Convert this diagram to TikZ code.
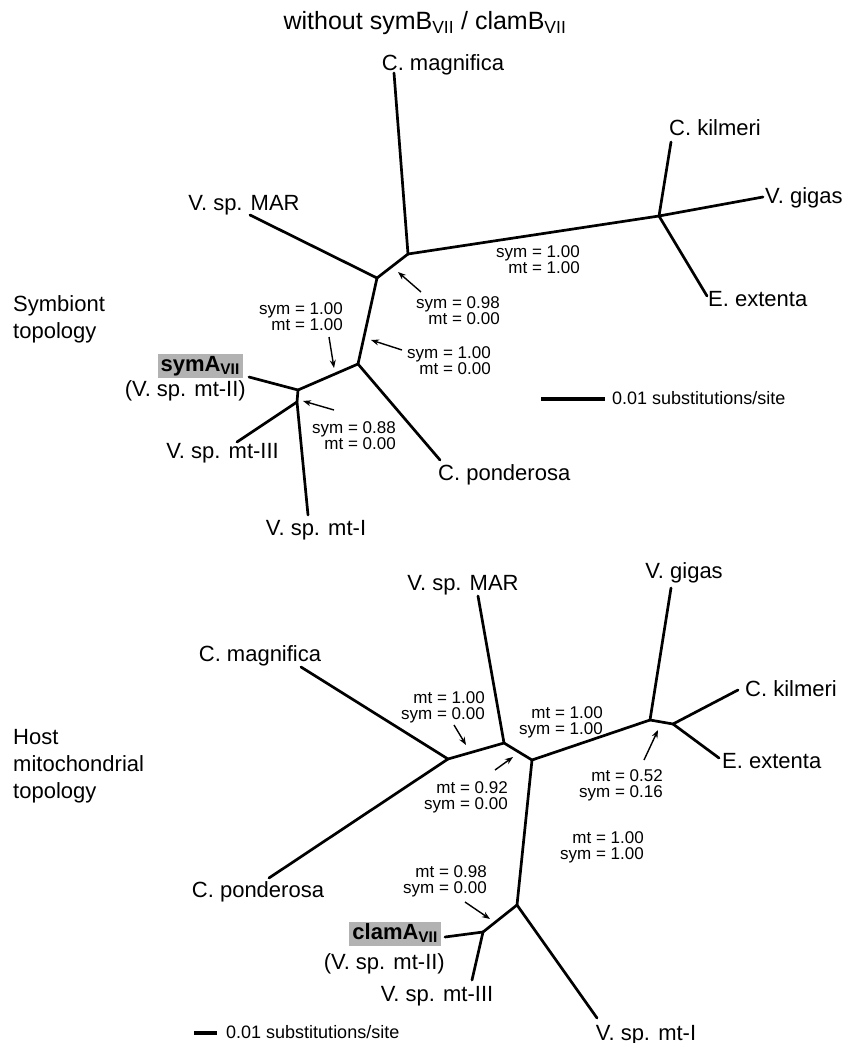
\documentclass[tikz,border=0pt]{standalone}
\usepackage{fontspec}
\setmainfont{Liberation Sans}
\usepackage{tikz}
\usetikzlibrary{positioning, arrows.meta}
\definecolor{boxgray}{gray}{0.7}
\newcommand{\VII}{\textsubscript{VII}}

\begin{document}
\begin{tikzpicture}[>={Stealth[length=8pt,width=6pt]}, x=1pt, y=-1pt,
  branch/.style={line width=2.7pt, line cap=round, line join=round},
  ptr/.style={->, line width=1.4pt},
  taxon/.style={inner sep=0pt, text height=16pt, text depth=0pt, font=\fontsize{22}{26}\selectfont},
  hl/.style={taxon, fill=boxgray, font=\fontsize{22}{26}\selectfont\bfseries, text depth=5pt, inner xsep=3pt, inner ysep=1.5pt},
  supp/.style={inner sep=0pt, align=right, anchor=north east, font=\fontsize{17}{16.5}\selectfont},
  side/.style={inner sep=0pt, align=left, anchor=north west, font=\fontsize{22}{27}\selectfont},
  scaletxt/.style={inner sep=0pt, anchor=west, text height=13pt, text depth=0pt, font=\fontsize{18}{20}\selectfont},
  bar/.style={line width=3.4pt}]
\useasboundingbox (0,0) rectangle (843,1043);

\node[font=\fontsize{25}{30}\selectfont] (title) at (425,23) {without symB\VII{} / clamB\VII};

% symbiont topology
\node[side] (symtop) at (13,295) {Symbiont\\topology};
\coordinate (s1) at (408,254);
\coordinate (s2) at (377,278);
\coordinate (s3) at (358,364);
\coordinate (s4) at (298,390);
\coordinate (s5) at (297,402);
\coordinate (s6) at (659,216);
\coordinate (smag) at (394,73);
\coordinate (smar) at (250,215);
\coordinate (skil) at (671,142);
\coordinate (sgig) at (763,197);
\coordinate (sext) at (707,296);
\coordinate (spon) at (440,460);
\coordinate (ssym) at (249,377);
\coordinate (smt3) at (237,442);
\coordinate (smt1) at (308,515);
\draw[branch](s1)--(smag);
\draw[branch](s1)--(s6);
\draw[branch](s6)--(skil);
\draw[branch](s6)--(sgig);
\draw[branch](s6)--(sext);
\draw[branch](s1)--(s2);
\draw[branch](s2)--(smar);
\draw[branch](s2)--(s3);
\draw[branch](s3)--(spon);
\draw[branch](s3)--(s4);
\draw[branch](s4)--(ssym);
\draw[branch](s4)--(s5);
\draw[branch](s5)--(smt3);
\draw[branch](s5)--(smt1);
\node[taxon] (smagl) at (443,63) {C. magnifica};
\node[taxon] (smarl) at (244,203) {V. sp. MAR};
\node[taxon, anchor=west] (skill) at (669,128) {C. kilmeri};
\node[taxon, anchor=west] (sgigl) at (765,196) {V. gigas};
\node[taxon, anchor=west] (sextl) at (708,298) {E. extenta};
\node[taxon, anchor=west] (sponl) at (438,472) {C. ponderosa};
\node[hl, anchor=east] (syma) at (243,366) {symA\VII};
\node[taxon, anchor=east] (smt2l) at (246,388) {(V. sp. mt-II)};
\node[taxon, anchor=east] (smt3l) at (279,450) {V. sp. mt-III};
\node[taxon] (smt1l) at (316,527) {V. sp. mt-I};
\node[supp] (sv1) at (580,245) {sym = 1.00\\mt = 1.00};
\node[supp] (sv2) at (500,296) {sym = 0.98\\mt = 0.00};
\node[supp] (sv3) at (491,346) {sym = 1.00\\mt = 0.00};
\node[supp] (sv4) at (343,302) {sym = 1.00\\mt = 1.00};
\node[supp] (sv5) at (396,421) {sym = 0.88\\mt = 0.00};
\coordinate (sa2) at (421,292); \coordinate (st2) at (398,272);
\coordinate (sa3) at (402,350); \coordinate (st3) at (371,340);
\coordinate (sa4) at (329,337); \coordinate (st4) at (334,368);
\coordinate (sa5) at (334,410); \coordinate (st5) at (303,401);
\draw[ptr](sa2)--(st2);
\draw[ptr](sa3)--(st3);
\draw[ptr](sa4)--(st4);
\draw[ptr](sa5)--(st5);
\coordinate (sb1) at (541,399); \coordinate (sb2) at (605,399);
\draw[bar](sb1)--(sb2);
\node[scaletxt] (sscale) at (612,398) {0.01 substitutions/site};

% host mitochondrial topology
\node[side] (hosttop) at (13,729) {Host\\mitochondrial\\topology};
\coordinate (h1) at (448,759);
\coordinate (h2) at (504,743);
\coordinate (h3) at (532,760);
\coordinate (h4) at (650,720);
\coordinate (h5) at (673,724);
\coordinate (h6) at (517,905);
\coordinate (h7) at (483,932);
\coordinate (hmag) at (301,667);
\coordinate (hpon) at (269,878);
\coordinate (hmar) at (478,596);
\coordinate (hgig) at (671,588);
\coordinate (hkil) at (738,690);
\coordinate (hext) at (719,758);
\coordinate (hclam) at (445,937);
\coordinate (hmt3) at (472,980);
\coordinate (hmt1) at (597,1018);
\draw[branch](h1)--(hmag);
\draw[branch](h1)--(hpon);
\draw[branch](h1)--(h2);
\draw[branch](h2)--(hmar);
\draw[branch](h2)--(h3);
\draw[branch](h3)--(h4);
\draw[branch](h4)--(hgig);
\draw[branch](h4)--(h5);
\draw[branch](h5)--(hkil);
\draw[branch](h5)--(hext);
\draw[branch](h3)--(h6);
\draw[branch](h6)--(h7);
\draw[branch](h7)--(hclam);
\draw[branch](h7)--(hmt3);
\draw[branch](h6)--(hmt1);
\node[taxon] (hmagl) at (260,653) {C. magnifica};
\node[taxon] (hponl) at (258,889) {C. ponderosa};
\node[taxon] (hmarl) at (463,582) {V. sp. MAR};
\node[taxon] (hgigl) at (684,570) {V. gigas};
\node[taxon, anchor=west] (hkill) at (745,688) {C. kilmeri};
\node[taxon, anchor=west] (hextl) at (722,760) {E. extenta};
\node[hl, anchor=east] (clama) at (441,934) {clamA\VII};
\node[taxon, anchor=east] (hmt2l) at (445,961) {(V. sp. mt-II)};
\node[taxon] (hmt3l) at (437,993) {V. sp. mt-III};
\node[taxon] (hmt1l) at (646,1032) {V. sp. mt-I};
\node[supp] (hv1) at (485,691) {mt = 1.00\\sym = 0.00};
\node[supp] (hv2) at (508,781) {mt = 0.92\\sym = 0.00};
\node[supp] (hv3) at (603,706) {mt = 1.00\\sym = 1.00};
\node[supp] (hv4) at (663,769) {mt = 0.52\\sym = 0.16};
\node[supp] (hv5) at (644,831) {mt = 1.00\\sym = 1.00};
\node[supp] (hv6) at (487,865) {mt = 0.98\\sym = 0.00};
\coordinate (ha1) at (454,725); \coordinate (ht1) at (466,745);
\coordinate (ha2) at (495,770); \coordinate (ht2) at (513,757);
\coordinate (ha4) at (644,760); \coordinate (ht4) at (658,730);
\coordinate (ha6) at (465,902); \coordinate (ht6) at (490,919);
\draw[ptr](ha1)--(ht1);
\draw[ptr](ha2)--(ht2);
\draw[ptr](ha4)--(ht4);
\draw[ptr](ha6)--(ht6);
\coordinate (hb1) at (194,1033); \coordinate (hb2) at (217,1033);
\draw[bar](hb1)--(hb2);
\node[scaletxt] (hscale) at (226,1032) {0.01 substitutions/site};

\end{tikzpicture}
\end{document}
